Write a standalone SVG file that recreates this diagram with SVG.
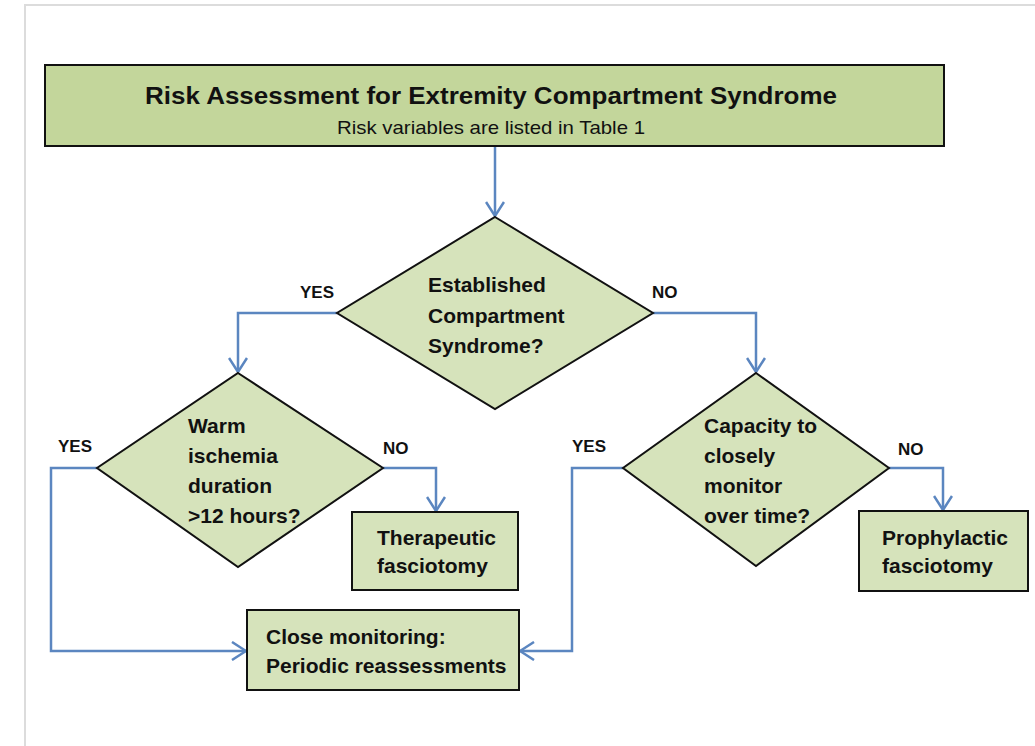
<svg xmlns="http://www.w3.org/2000/svg" width="1035" height="746" viewBox="0 0 1035 746">
<style>
.frame{stroke:#dcdcdc;stroke-width:2;fill:none}
.title{fill:#c3d69b;stroke:#111;stroke-width:2}
.node{fill:#d6e3bb;stroke:#111;stroke-width:2}
.conn{fill:none;stroke:#5b86c0;stroke-width:2.5}
text{font-family:"Liberation Sans",Arial,sans-serif;fill:#111}
.t{font-size:21px;font-weight:bold}
.lbl{font-size:17px;font-weight:bold}
</style>
<defs>
<marker id="arr" markerUnits="userSpaceOnUse" viewBox="0 0 16 20" refX="15" refY="10" markerWidth="16" markerHeight="20" orient="auto">
<path d="M1,1 L15,10 L1,19" fill="none" stroke="#5b86c0" stroke-width="2.5"/>
</marker>
</defs>
<rect width="1035" height="746" fill="#fff"/>
<path class="frame" d="M25,746 L25,5 L1035,5"/>
<g id="connectors">
<path class="conn" d="M495,146 L495,216" marker-end="url(#arr)"/>
<path class="conn" d="M337,313 L238,313 L238,372" marker-end="url(#arr)"/>
<path class="conn" d="M653,313 L756,313 L756,372" marker-end="url(#arr)"/>
<path class="conn" d="M97,468 L51,468 L51,651 L246,651" marker-end="url(#arr)"/>
<path class="conn" d="M383,468 L436,468 L436,511" marker-end="url(#arr)"/>
<path class="conn" d="M623,468 L572,468 L572,651 L520,651" marker-end="url(#arr)"/>
<path class="conn" d="M889,468 L943,468 L943,510" marker-end="url(#arr)"/>
</g>
<g id="labels">
<text class="lbl" x="300" y="298">YES</text>
<text class="lbl" x="652" y="298">NO</text>
<text class="lbl" x="58" y="452">YES</text>
<text class="lbl" x="383" y="454">NO</text>
<text class="lbl" x="572" y="452">YES</text>
<text class="lbl" x="898" y="455">NO</text>
</g>
<g id="title">
<rect class="title" x="45" y="65" width="899" height="81"/>
<text x="491" y="104" text-anchor="middle" font-size="24" font-weight="bold" textLength="692" lengthAdjust="spacingAndGlyphs">Risk Assessment for Extremity Compartment Syndrome</text>
<text x="491" y="134" text-anchor="middle" font-size="19" textLength="308" lengthAdjust="spacingAndGlyphs">Risk variables are listed in Table 1</text>
</g>
<g id="d-established">
<polygon class="node" points="495,217 653,313 495,409 337,313"/>
<text class="t" x="428" y="292">Established</text>
<text class="t" x="428" y="323">Compartment</text>
<text class="t" x="428" y="353">Syndrome?</text>
</g>
<g id="d-warm">
<polygon class="node" points="238,373 383,468 238,567 97,468"/>
<text class="t" x="188" y="433">Warm</text>
<text class="t" x="188" y="463">ischemia</text>
<text class="t" x="188" y="493">duration</text>
<text class="t" x="188" y="523">&gt;12 hours?</text>
</g>
<g id="d-capacity">
<polygon class="node" points="756,373 889,468 756,566 623,468"/>
<text class="t" x="704" y="433">Capacity to</text>
<text class="t" x="704" y="463">closely</text>
<text class="t" x="704" y="493">monitor</text>
<text class="t" x="704" y="523">over time?</text>
</g>
<g id="b-therapeutic">
<rect class="node" x="352" y="512" width="166" height="78"/>
<text class="t" x="377" y="545">Therapeutic</text>
<text class="t" x="377" y="573">fasciotomy</text>
</g>
<g id="b-prophylactic">
<rect class="node" x="859" y="511" width="169" height="80"/>
<text class="t" x="882" y="545">Prophylactic</text>
<text class="t" x="882" y="573">fasciotomy</text>
</g>
<g id="b-close">
<rect class="node" x="247" y="610" width="272" height="80"/>
<text class="t" x="266" y="644">Close monitoring:</text>
<text class="t" x="266" y="673">Periodic reassessments</text>
</g>
</svg>
